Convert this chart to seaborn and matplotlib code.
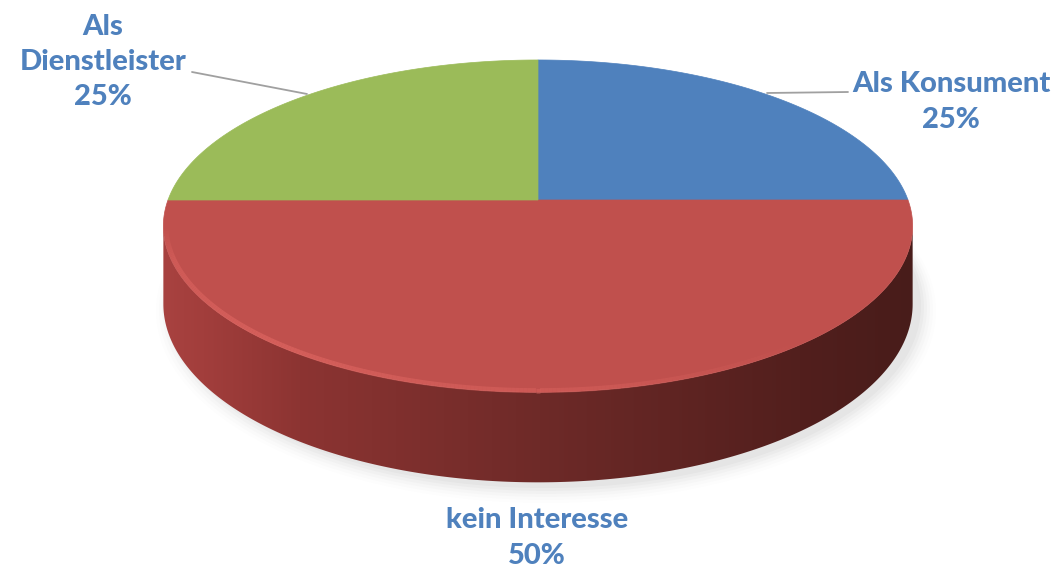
import numpy as np
import matplotlib
matplotlib.use("Agg")
import matplotlib.pyplot as plt
import seaborn as sns
from matplotlib.patches import Polygon, Ellipse
from matplotlib.collections import LineCollection

# Daten
labels = ["Als Konsument", "kein Interesse", "Als\nDienstleister"]
values = [25, 50, 25]
colors = ["#4F81BD", "#C0504D", "#9BBB59"]

# Geometrie der 3D-Torte (Pixel)
CX, CY = 538, 200
A, B, K = 370, 162, 0.157
DEPTH = 76


def project(theta_deg, r=1.0, drop=0.0):
    t = np.radians(theta_deg)
    u, v = r * np.cos(t), r * np.sin(t)
    w = 1 + K * v
    return CX + A * u / w, CY - B * v / w + drop / w


sns.set_theme(style="white")
plt.rcParams['font.family'] = ['Lato', 'DejaVu Sans']

fig = plt.figure(figsize=(10.55, 5.73), dpi=100)
ax = fig.add_axes([0, 0, 1, 1])
ax.set_xlim(0, 1055)
ax.set_ylim(573, 0)
ax.axis("off")

# Tortenstücke über ax.pie bestimmen, dann perspektivisch zeichnen
wedges, _ = ax.pie(values, startangle=90, counterclock=False, radius=1)
angles = [(w.theta1, w.theta2) for w in wedges]
for w in wedges:
    w.remove()

# Schatten
for i, a in enumerate(np.linspace(0.05, 0.015, 6)):
    ax.add_patch(Ellipse((CX + 8, CY + DEPTH + 30 + i), 2 * A + 10 + 6 * i, 2 * B + 40 + 4 * i,
                         color="#808080", alpha=a, lw=0, zorder=1))

# Seitenwand
t_left = 180 + np.degrees(np.arcsin(K))
t_right = 360 - np.degrees(np.arcsin(K))
ts = np.linspace(t_left, t_right, 300)
tx, ty = project(ts)
bx, by = project(ts[::-1], drop=DEPTH)
side = Polygon(np.column_stack([np.r_[tx, bx], np.r_[ty, by]]), closed=True,
               facecolor="none", edgecolor="none", zorder=2)
ax.add_patch(side)
xs = np.linspace(tx.min(), tx.max(), 400)
stops_x = [tx.min(), tx.min() + 40, 300, 540, 800, tx.max()]
stops_c = np.array([[168, 66, 64], [162, 62, 60], [140, 52, 50], [110, 42, 40], [82, 31, 29], [72, 28, 26]]) / 255
grad = np.stack([np.interp(xs, stops_x, stops_c[:, j]) for j in range(3)], axis=-1)[None, :, :]
im = ax.imshow(grad, extent=[tx.min(), tx.max(), by.max() + 2, ty.min() - 2], aspect="auto", zorder=2)
im.set_clip_path(side)
ax.set_xlim(0, 1055)
ax.set_ylim(573, 0)

# Oberseite
for (t1, t2), col in zip(angles, colors):
    th = np.linspace(t1, t2, 200)
    px, py = project(th)
    ax.add_patch(Polygon(np.column_stack([np.r_[CX, px], np.r_[CY, py]]), closed=True,
                         facecolor=col, edgecolor=col, lw=0.5, zorder=3))

# Glanzkante am vorderen Rand
hx, hy = project(ts, r=0.993)
pts = np.column_stack([hx, hy]).reshape(-1, 1, 2)
segs = np.concatenate([pts[:-1], pts[1:]], axis=1)
alph = np.clip(np.interp(ts[:-1], [t_left, 200, 230, 280, 310, t_right], [0.0, 0.4, 0.55, 0.3, 0.0, 0.0]), 0, 1)
ax.add_collection(LineCollection(segs, colors=[(0.9, 0.42, 0.40, a) for a in alph], linewidths=3.5, zorder=4))

# Beschriftungen
txt_color = "#4F81BD"
ax.plot([192, 307], [72, 94], color="#A0A0A0", lw=1.3, zorder=5)
ax.plot([767, 848], [93, 92], color="#A0A0A0", lw=1.3, zorder=5)
fs = 21
kw = dict(ha="center", va="center", color=txt_color, fontsize=fs, fontweight="black",
          linespacing=1.45, zorder=6)
ax.text(951, 102, f"{labels[0]}\n{values[0]}%", **kw)
ax.text(537, 538, f"{labels[1]}\n{values[1]}%", **kw)
ax.text(103, 62, f"{labels[2]}\n{values[2]}%", **kw)

fig.savefig("out.png", dpi=100, facecolor="white")
